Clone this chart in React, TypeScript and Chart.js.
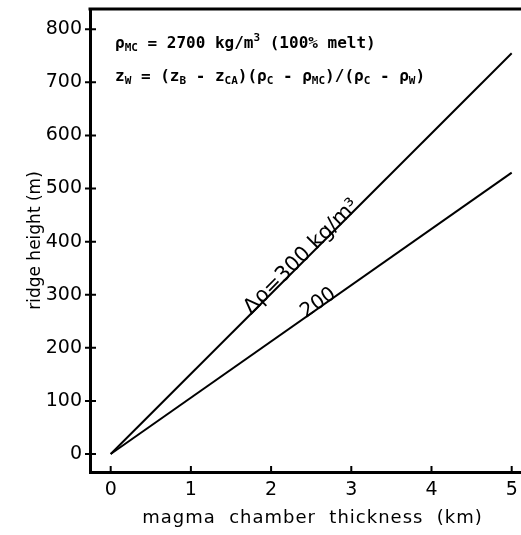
import React, { useEffect, useRef } from 'react';
import { Chart, registerables } from 'chart.js';

Chart.register(...registerables);

// ---- data ----
const thicknessKm = [0, 5];
const ridge300 = [0, 755];
const ridge200 = [0, 530];
const xTickValues = [0, 1, 2, 3, 4, 5];
const yTickValues = [0, 100, 200, 300, 400, 500, 600, 700, 800];
const lineLabels = ['Δρ=300 kg/m³', '200'];
const lineLabelAtKm = [2.42, 2.62];
const xTitle = 'magma  chamber  thickness  (km)';
const yTitle = 'ridge height (m)';

type Run = { t: string; sub?: boolean; sup?: boolean };
const noteLine1: Run[] = [
  { t: 'ρ' }, { t: 'MC', sub: true }, { t: ' = 2700 kg/m' }, { t: '3', sup: true }, { t: ' (100% melt)' },
];
const noteLine2: Run[] = [
  { t: 'z' }, { t: 'W', sub: true }, { t: ' = (z' }, { t: 'B', sub: true }, { t: ' - z' }, { t: 'CA', sub: true },
  { t: ')(ρ' }, { t: 'C', sub: true }, { t: ' - ρ' }, { t: 'MC', sub: true }, { t: ')/(ρ' }, { t: 'C', sub: true },
  { t: ' - ρ' }, { t: 'W', sub: true }, { t: ')' },
];

const SANS = '"DejaVu Sans", sans-serif';
const MONO = '"DejaVu Sans Mono", monospace';

function drawRuns(ctx: CanvasRenderingContext2D, runs: Run[], x: number, y: number) {
  let cx = x;
  ctx.textBaseline = 'alphabetic';
  ctx.textAlign = 'left';
  for (const r of runs) {
    if (r.sub || r.sup) {
      ctx.font = `bold 11px ${MONO}`;
      const dy = r.sub ? 3 : -7;
      ctx.fillText(r.t, cx, y + dy);
    } else {
      ctx.font = `bold 16px ${MONO}`;
      ctx.fillText(r.t, cx, y);
    }
    cx += ctx.measureText(r.t).width;
  }
}

const overlayPlugin = {
  id: 'overlay',
  afterDraw(chart: any) {
    const ctx: CanvasRenderingContext2D = chart.ctx;
    const { left, right, top, bottom } = chart.chartArea;
    const xs = chart.scales.x;
    const ys = chart.scales.y;
    ctx.save();
    ctx.strokeStyle = '#000';
    ctx.fillStyle = '#000';
    // top frame line
    ctx.lineWidth = 3;
    ctx.beginPath();
    ctx.moveTo(left - 1.5, top);
    ctx.lineTo(chart.width, top);
    ctx.stroke();
    // tick marks
    ctx.lineWidth = 2;
    ctx.beginPath();
    yTickValues.forEach((v) => {
      const y = ys.getPixelForValue(v);
      ctx.moveTo(left - 5, y);
      ctx.lineTo(left + 6, y);
    });
    xTickValues.forEach((v) => {
      const x = xs.getPixelForValue(v);
      ctx.moveTo(x, bottom);
      ctx.lineTo(x, bottom - 6);
    });
    ctx.stroke();

    // line labels
    const series = [ridge300, ridge200];
    series.forEach((vals, i) => {
      const x0 = xs.getPixelForValue(thicknessKm[0]);
      const y0 = ys.getPixelForValue(vals[0]);
      const x1 = xs.getPixelForValue(thicknessKm[1]);
      const y1 = ys.getPixelForValue(vals[1]);
      const ang = Math.atan2(y1 - y0, x1 - x0);
      const km = lineLabelAtKm[i];
      const val = vals[0] + ((vals[1] - vals[0]) * (km - thicknessKm[0])) / (thicknessKm[1] - thicknessKm[0]);
      const px = xs.getPixelForValue(km);
      const py = ys.getPixelForValue(val);
      ctx.save();
      ctx.translate(px, py);
      ctx.rotate(ang);
      ctx.font = `${i === 0 ? 21 : 20}px ${SANS}`;
      ctx.textAlign = 'center';
      ctx.textBaseline = 'alphabetic';
      ctx.fillText(lineLabels[i], 0, 1);
      ctx.restore();
    });

    // x axis title
    ctx.save();
    ctx.font = `18px ${SANS}`;
    (ctx as any).letterSpacing = '1px';
    ctx.textAlign = 'center';
    ctx.textBaseline = 'middle';
    ctx.fillText(xTitle, (left + chart.width) / 2 + 7, 518);
    ctx.restore();

    // notes
    drawRuns(ctx, noteLine1, left + 25, top + 39);
    drawRuns(ctx, noteLine2, left + 25, top + 72);
    ctx.restore();
  },
};

export default function App() {
  const ref = useRef<HTMLCanvasElement | null>(null);
  useEffect(() => {
    if (!ref.current) return;
    const mk = (vals: number[]) => thicknessKm.map((x, i) => ({ x, y: vals[i] }));
    const chart = new Chart(ref.current, {
      type: 'line',
      data: {
        datasets: [
          { data: mk(ridge300), borderColor: '#000', borderWidth: 2, pointRadius: 0, fill: false, tension: 0 },
          { data: mk(ridge200), borderColor: '#000', borderWidth: 2, pointRadius: 0, fill: false, tension: 0 },
        ],
      },
      options: {
        animation: false,
        responsive: false,
        layout: { padding: { top: 9, right: 0, left: 0, bottom: 0 } },
        plugins: { legend: { display: false }, tooltip: { enabled: false } },
        scales: {
          x: {
            type: 'linear',
            min: -0.258,
            max: 5.116,
            grid: { display: false, drawTicks: false },
            border: { display: true, color: '#000', width: 3 },
            afterBuildTicks: (s: any) => { s.ticks = xTickValues.map((v) => ({ value: v })); },
            afterFit: (s: any) => { s.height = 63; s.paddingLeft = 0; s.paddingRight = 0; },
            ticks: { color: '#000', font: { family: SANS, size: 19 }, padding: 7, maxRotation: 0 },
            title: { display: false, text: xTitle },
          },
          y: {
            type: 'linear',
            min: -33.9,
            max: 838.2,
            grid: { display: false, drawTicks: false },
            border: { display: true, color: '#000', width: 3 },
            afterBuildTicks: (s: any) => { s.ticks = yTickValues.map((v) => ({ value: v })); },
            afterFit: (s: any) => { s.width = 90; s.paddingTop = 0; s.paddingBottom = 0; },
            ticks: { color: '#000', font: { family: SANS, size: 19 }, padding: 8 },
            title: { display: true, text: yTitle, color: '#000', font: { family: SANS, size: 17 }, padding: { top: 25, bottom: 0 } },
          },
        },
      },
      plugins: [overlayPlugin],
    });
    return () => chart.destroy();
  }, []);
  return (
    <div style={{ position: 'fixed', left: 0, top: 0, width: 521, height: 535, background: '#fff' }}>
      <canvas ref={ref} width={521} height={535} style={{ display: 'block' }} />
    </div>
  );
}
